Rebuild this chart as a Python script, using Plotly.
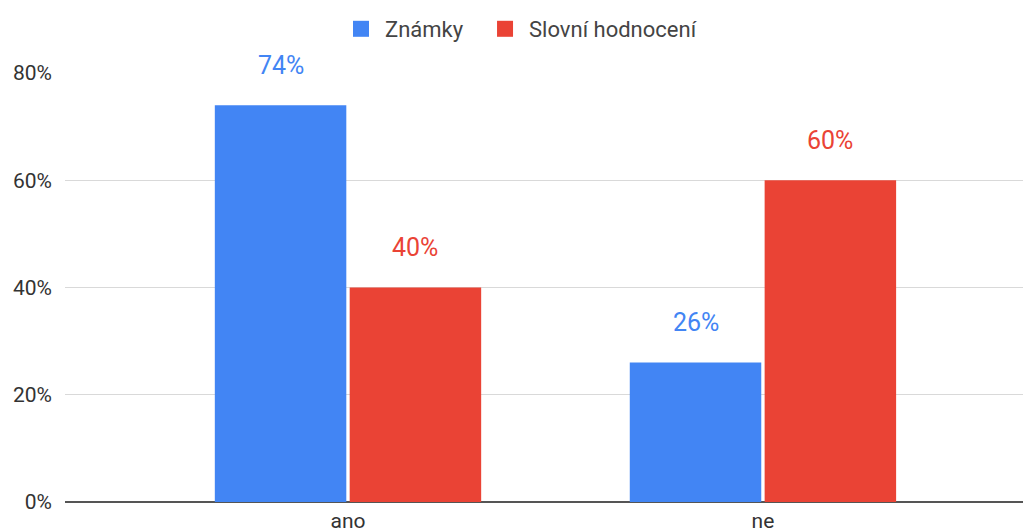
import plotly.graph_objects as go

categories = ["ano", "ne"]
znamky = [74, 26]
slovni = [40, 60]
series_names = ["Známky", "Slovní hodnocení"]
colors = ["#4285F4", "#EA4335"]
yticks = [0, 20, 40, 60, 80]
ytick_labels = ["0%", "20%", "40%", "60%", "80%"]

legend_ids = ["legend", "legend2"]
fig = go.Figure()
for name, vals, col, lg in zip(series_names, [znamky, slovni], colors, legend_ids):
    fig.add_trace(go.Bar(x=categories, y=vals, name=name, marker=dict(color=col, line=dict(width=0)),
                         hoverinfo="skip", showlegend=False, legendgroup=name))
    fig.add_trace(go.Scatter(x=[None], y=[None], mode="markers", name=name, legendgroup=name,
                             legend=lg, marker=dict(symbol="square", size=16, color=col),
                             hoverinfo="skip"))

for i, (vals, col) in enumerate(zip([znamky, slovni], colors)):
    shift = -67 if i == 0 else 67
    for c, v in zip(categories, vals):
        fig.add_annotation(x=c, y=v, text=f"{v}%", showarrow=False, xshift=shift, yshift=40,
                           font=dict(family="Roboto", size=25, color=col))

legend_common = dict(orientation="h", xref="container", xanchor="left", y=1.0, yref="container",
                     yanchor="top", font=dict(size=22, color="#444"), itemwidth=38)

fig.update_layout(
    width=1023, height=524,
    margin=dict(l=57, r=0, t=65, b=30, autoexpand=False),
    plot_bgcolor="white", paper_bgcolor="white",
    barmode="group", bargap=0.35, bargroupgap=0.025,
    font=dict(family="Roboto", size=21, color="#444"),
    legend=dict(x=0.3216, **legend_common),
    legend2=dict(x=0.4624, **legend_common),
    xaxis=dict(range=[-0.682, 1.646], showgrid=False, ticks="", showline=False, automargin=False,
               tickfont=dict(size=21, color="#333"), ticklabelstandoff=4),
    yaxis=dict(range=[0, 80], tickvals=yticks, ticktext=ytick_labels, showgrid=True, automargin=False,
               gridcolor="#d9d9d9", gridwidth=1, zeroline=True, zerolinecolor="#555", zerolinewidth=1.5,
               tickfont=dict(size=21, color="#333"), ticklabelstandoff=12),
)

fig.write_html("out.html")
